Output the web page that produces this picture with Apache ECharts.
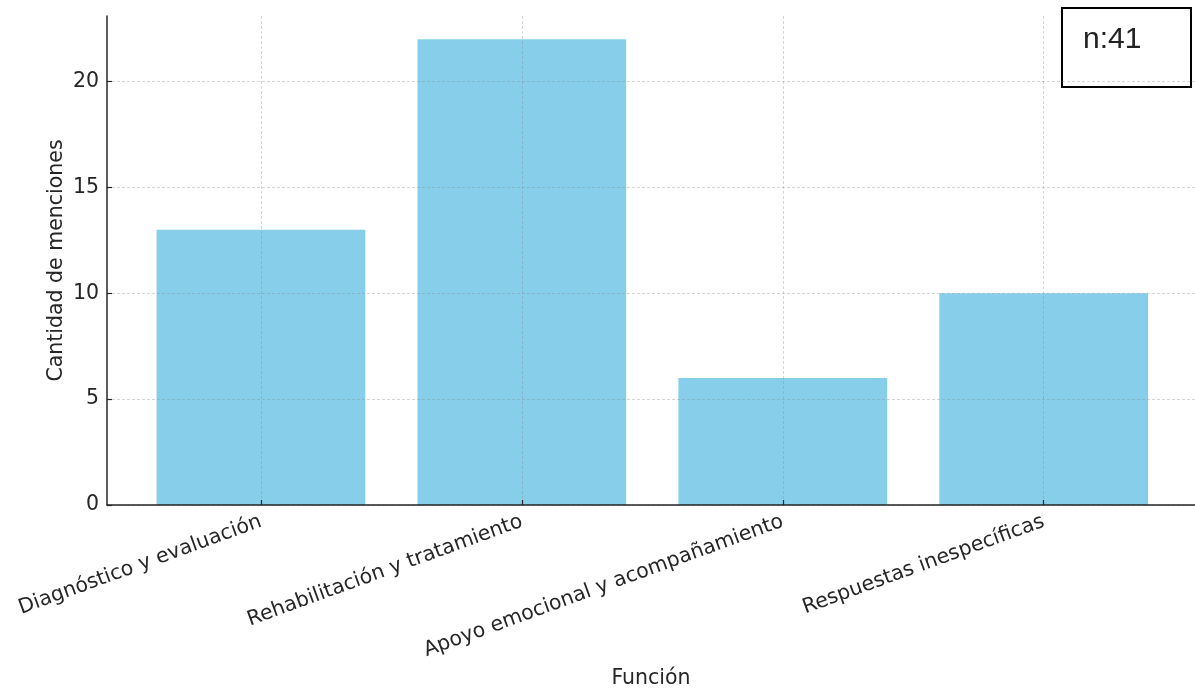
<!DOCTYPE html>
<html>
<head>
<meta charset="utf-8">
<script src="https://cdn.jsdelivr.net/npm/echarts@6/dist/echarts.min.js"></script>
<style>
html,body{margin:0;padding:0;background:#fff;}
#chart{width:1195px;height:688px;}
</style>
</head>
<body>
<div id="chart"></div>
<script>
const categories = ['Diagnóstico y evaluación', 'Rehabilitación y tratamiento', 'Apoyo emocional y acompañamiento', 'Respuestas inespecíficas'];
const mentions = [13, 22, 6, 10];
const yTicks = [0, 5, 10, 15, 20];
const xTicks = [0, 1, 2, 3];
const sampleLabel = 'n:41';
const xAxisTitle = 'Función';
const yAxisTitle = 'Cantidad de menciones';

const chart = echarts.init(document.getElementById('chart'), null, {renderer: 'canvas'});
const font = 'DejaVu Sans';
const fs = 20.5;
const txt = '#262626';
const gridLine = {show: true, lineStyle: {color: 'rgba(128,128,128,0.32)', type: [3, 2], width: 1}};

chart.setOption({
  animation: false,
  backgroundColor: '#fff',
  grid: {left: 107, right: 0, top: 16, bottom: 183, containLabel: false, outerBoundsMode: 'none'},
  xAxis: {
    type: 'value', min: -0.59, max: 3.58, z: 5,
    name: xAxisTitle, nameLocation: 'middle', nameGap: 163, nameMoveOverlap: false,
    nameTextStyle: {fontFamily: font, fontSize: fs, color: txt},
    axisLine: {show: true, onZero: false, lineStyle: {color: '#262626', width: 1.5}},
    axisTick: {show: true, inside: true, length: 5, customValues: xTicks, lineStyle: {color: '#262626', width: 1.2}},
    axisLabel: {customValues: xTicks, rotate: 20, margin: 16, fontFamily: font, fontSize: fs, color: txt,
      formatter: v => categories[Math.round(v)] || ''},
    splitLine: gridLine
  },
  yAxis: {
    type: 'value', min: 0, max: 23.1, z: 5,
    name: yAxisTitle, nameLocation: 'middle', nameGap: 40, nameMoveOverlap: false,
    nameTextStyle: {fontFamily: font, fontSize: fs, color: txt},
    axisLine: {show: true, onZero: false, lineStyle: {color: '#262626', width: 1.5}},
    axisTick: {show: true, inside: true, length: 5, customValues: yTicks, lineStyle: {color: '#262626', width: 1.2}},
    axisLabel: {customValues: yTicks, margin: 8, fontFamily: font, fontSize: fs, color: txt},
    splitLine: gridLine
  },
  series: [{
    type: 'bar', z: 2,
    barWidth: '80%',
    itemStyle: {color: '#87CEEB'},
    data: mentions.map((v, i) => [xTicks[i], v])
  }],
  graphic: [{
    type: 'group', right: 3, top: 7, z: 10,
    children: [
      {type: 'rect', shape: {x: 0, y: 0, width: 129, height: 79}, style: {fill: '#fff', stroke: '#000', lineWidth: 2}},
      {type: 'text', x: 21, y: 17, style: {text: sampleLabel, fontFamily: 'Liberation Sans', fontSize: 30, fill: '#222'}}
    ]
  }]
});
</script>
</body>
</html>
